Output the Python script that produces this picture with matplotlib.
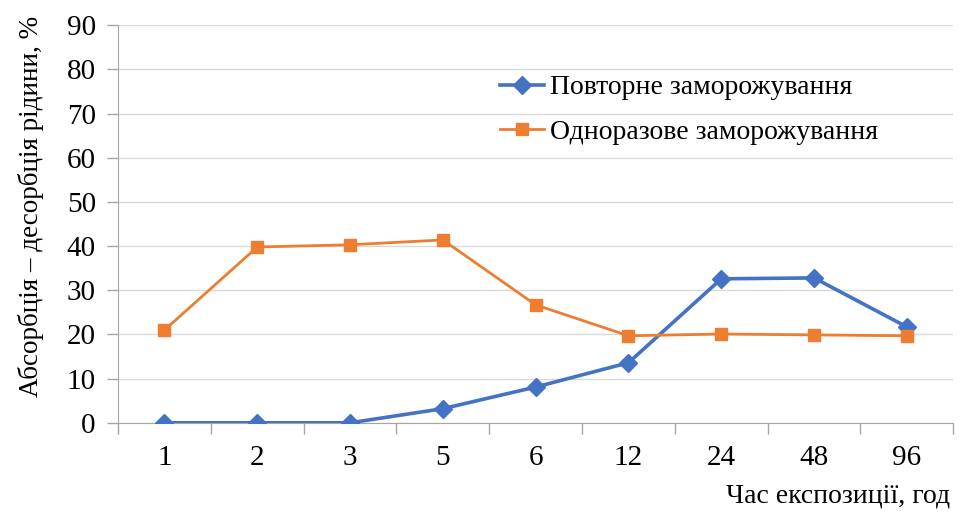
import matplotlib
matplotlib.use("Agg")
import matplotlib.pyplot as plt
import numpy as np

plt.rcParams['font.family'] = ['Liberation Serif', 'DejaVu Serif']

hours = ["1", "2", "3", "5", "6", "12", "24", "48", "96"]
repeated = [0, 0, 0, 3.2, 8.1, 13.6, 32.6, 32.8, 21.7]
single = [21.0, 39.8, 40.3, 41.4, 26.7, 19.7, 20.1, 19.9, 19.7]

fig = plt.figure(figsize=(9.6, 5.15), dpi=100)
ax = fig.add_axes([0.123, 0.179, 0.870, 0.772])

x = np.arange(len(hours))
ax.plot(x, repeated, color='#4472C4', lw=2.6, marker='D', ms=9,
        label='Повторне заморожування', zorder=3)
ax.plot(x, single, color='#ED7D31', lw=2.0, marker='s', ms=8.5,
        label='Одноразове заморожування', zorder=3)

ax.set_xlim(-0.5, len(hours) - 0.5)
ax.set_ylim(0, 90)
ax.set_yticks(range(0, 91, 10))
ax.set_xticks(x)
ax.set_xticklabels(hours)
ax.set_xticks(np.arange(-0.5, len(hours), 1.0), minor=True)
ax.tick_params(axis='x', which='major', length=0, pad=16, labelsize=21)
ax.tick_params(axis='x', which='minor', length=8, color='#a6a6a6', width=1)
ax.tick_params(axis='y', length=8, color='#a6a6a6', width=1, pad=8, labelsize=21)

ax.yaxis.grid(True, color='#d9d9d9', lw=1)
ax.set_axisbelow(True)
for side in ('top', 'right'):
    ax.spines[side].set_visible(False)
for side in ('left', 'bottom'):
    ax.spines[side].set_color('#a6a6a6')

ax.set_ylabel('Абсорбція – десорбція рідини, %', fontsize=19.5)
ax.yaxis.set_label_coords(-0.089, 0.543)
fig.text(0.99, 0.012, 'Час експозиції, год', fontsize=20, ha='right', va='bottom')

leg = ax.legend(loc='upper left', bbox_to_anchor=(0.427, 0.938), frameon=False,
                fontsize=20, handlelength=1.6, labelspacing=0.7, handletextpad=0.2)

fig.savefig('out.png', dpi=100)
